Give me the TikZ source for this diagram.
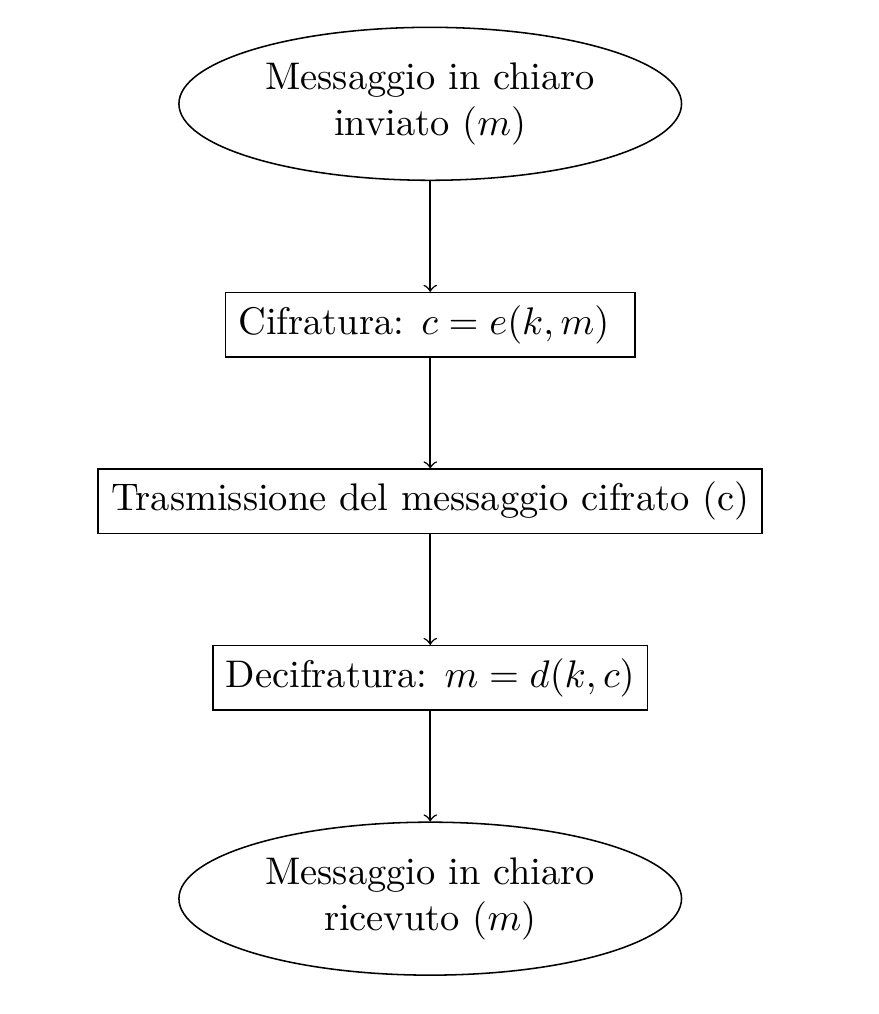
\documentclass[tikz,border=0pt]{standalone}
\usetikzlibrary{positioning}
\usetikzlibrary{shapes.geometric}
\usetikzlibrary{calc}

\begin{document}
\begin{tikzpicture}[node distance=28.8pt]

  % Plain text messages
  \node[draw, shape=ellipse, align=center, minimum height=39.5pt] (msgin) {Messaggio in chiaro\\inviato ($m$)};
  % Steps
  \node[draw, below=of msgin] (cifra) {Cifratura: $c = e(k, m)\ $};
  \node[draw, below=of cifra] (trasm) {Trasmissione del messaggio cifrato (c)};
  \node[draw, below=of trasm] (decifra) {Decifratura: $m = d(k, c)$};
  \node[draw, shape=ellipse, align=center, minimum height=39.5pt, below=of decifra] (msgout) {Messaggio in chiaro\\ricevuto ($m$)};

  % Flow
  \path[draw,->] (msgin) to (cifra);
  \path[draw,->] (cifra) to (trasm);
  \path[draw,->] (trasm) to (decifra);
  \path[draw,->] (decifra) to (msgout);

  % Margins
  \useasboundingbox ($(msgin.north)+(-111.8pt,6.9pt)$) rectangle ($(msgout.south)+(116.5pt,-9.9pt)$);

\end{tikzpicture}
\end{document}
